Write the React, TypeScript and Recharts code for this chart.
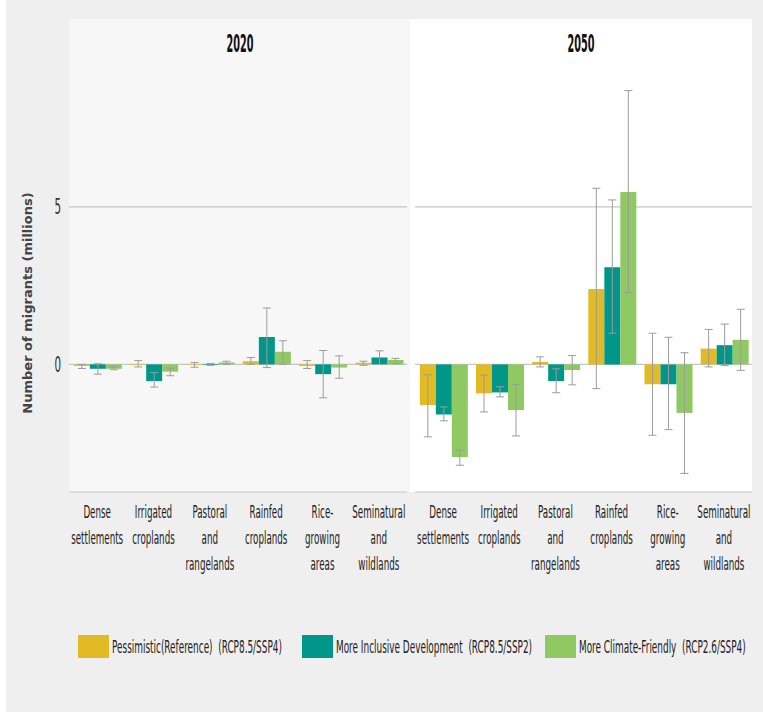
import { BarChart, Bar, XAxis, YAxis, CartesianGrid, ErrorBar } from "recharts"

// land-use categories (line breaks as in the original axis)
const CATEGORIES = [
  "Dense\nsettlements",
  "Irrigated\ncroplands",
  "Pastoral\nand\nrangelands",
  "Rainfed\ncroplands",
  "Rice-\ngrowing\nareas",
  "Seminatural\nand\nwildlands",
]

const SERIES = [
  { key: "pessimistic", name: "Pessimistic(Reference)\u00a0\u00a0(RCP8.5/SSP4)", color: "#e2bb24" },
  { key: "inclusive", name: "More Inclusive Development\u00a0\u00a0(RCP8.5/SSP2)", color: "#00968a" },
  { key: "climate", name: "More Climate-Friendly\u00a0\u00a0(RCP2.6/SSP4)", color: "#8ec961" },
]

// 2020, millions of migrants
const PESS_2020 = [-0.05, -0.02, -0.02, 0.1, -0.05, 0.05]
const PESS_2020_LO = [-0.13, -0.08, -0.09, 0.0, -0.13, -0.03]
const PESS_2020_HI = [0.0, 0.12, 0.06, 0.22, 0.12, 0.1]
const INCL_2020 = [-0.14, -0.53, -0.02, 0.87, -0.31, 0.22]
const INCL_2020_LO = [-0.31, -0.72, -0.03, -0.1, -1.06, 0.0]
const INCL_2020_HI = [0.02, -0.26, 0.03, 1.79, 0.44, 0.43]
const CLIM_2020 = [-0.14, -0.23, 0.06, 0.4, -0.1, 0.14]
const CLIM_2020_LO = [-0.17, -0.36, 0.0, 0.0, -0.44, 0.02]
const CLIM_2020_HI = [-0.07, -0.12, 0.1, 0.75, 0.27, 0.19]

// 2050
const PESS_2050 = [-1.29, -0.92, 0.08, 2.39, -0.63, 0.5]
const PESS_2050_LO = [-2.3, -1.51, -0.08, -0.77, -2.25, -0.08]
const PESS_2050_HI = [-0.33, -0.34, 0.24, 5.59, 0.99, 1.11]
const INCL_2050 = [-1.59, -0.89, -0.53, 3.08, -0.63, 0.61]
const INCL_2050_LO = [-1.79, -1.03, -0.9, 0.99, -2.07, -0.04]
const INCL_2050_HI = [-1.35, -0.71, -0.14, 5.22, 0.86, 1.28]
const CLIM_2050 = [-2.94, -1.45, -0.18, 5.47, -1.54, 0.78]
const CLIM_2050_LO = [-3.2, -2.27, -0.65, 2.28, -3.46, -0.19]
const CLIM_2050_HI = [-2.72, -0.64, 0.28, 8.69, 0.37, 1.75]

const Y_TICKS = [0, 5]
const Y_DOMAIN = [-4.05, 9.2]

const NARROW = "'Liberation Sans Narrow', 'DejaVu Sans Condensed', 'Liberation Sans', sans-serif"
const TEXT = "#222"

type Triple = [number[], number[], number[]]

function buildRows(series: Triple[]) {
  return CATEGORIES.map((name, i) => {
    const row: Record<string, any> = { name }
    SERIES.forEach((s, k) => {
      const [v, lo, hi] = series[k]
      row[s.key] = v[i]
      row[s.key + "Err"] = [v[i] - lo[i], hi[i] - v[i]]
    })
    return row
  })
}

const rows2020 = buildRows([
  [PESS_2020, PESS_2020_LO, PESS_2020_HI],
  [INCL_2020, INCL_2020_LO, INCL_2020_HI],
  [CLIM_2020, CLIM_2020_LO, CLIM_2020_HI],
])
const rows2050 = buildRows([
  [PESS_2050, PESS_2050_LO, PESS_2050_HI],
  [INCL_2050, INCL_2050_LO, INCL_2050_HI],
  [CLIM_2050, CLIM_2050_LO, CLIM_2050_HI],
])

function CategoryTick({ x, y, payload }: any) {
  const lines = String(payload.value).split("\n")
  return (
    <g transform={`translate(${x},${y})`}>
      <text transform="scale(0.54,1)" textAnchor="middle" fontFamily={NARROW} fontSize={18} fill={TEXT}>
        {lines.map((l, i) => (
          <tspan key={i} x={0} y={12 + i * 26} dominantBaseline="central">
            {l}
          </tspan>
        ))}
      </text>
    </g>
  )
}

function ValueTick({ x, y, payload }: any) {
  return (
    <g transform={`translate(${x},${y})`}>
      <text transform="scale(0.55,1)" textAnchor="end" dominantBaseline="central" fontFamily={NARROW} fontSize={21} fill="#333">
        {payload.value}
      </text>
    </g>
  )
}

// grid only at the 0 and 5 ticks
const gridAtTicks = ({ yAxis, offset }: any) => {
  if (yAxis && typeof yAxis.scale === "function") return Y_TICKS.map((t) => yAxis.scale(t))
  const [lo, hi] = Y_DOMAIN
  return Y_TICKS.map((t) => offset.top + (offset.height * (hi - t)) / (hi - lo))
}

function Panel({ data, left, width, yTicks }: { data: any[]; left: number; width: number; yTicks: boolean }) {
  return (
    <div style={{ position: "absolute", left, top: 19 }}>
      <BarChart
        width={width}
        height={590}
        data={data}
        margin={{ top: 55.5, right: yTicks ? 3 : 0, left: 0, bottom: 17 }}
        barCategoryGap="8.6%"
        barGap={0}
      >
        <CartesianGrid vertical={false} stroke="#c6c6c6" strokeWidth={1.2} horizontalCoordinatesGenerator={gridAtTicks} />
        <XAxis
          dataKey="name"
          interval={0}
          height={100}
          tickLine={false}
          axisLine={{ stroke: "#c6c6c6", strokeWidth: 1.2 }}
          tick={<CategoryTick />}
        />
        <YAxis
          width={yTicks ? 29 : 5}
          domain={Y_DOMAIN}
          ticks={Y_TICKS}
          allowDataOverflow
          axisLine={false}
          tickLine={false}
          tick={yTicks ? <ValueTick /> : false}
        />
        {SERIES.map((s) => (
          <Bar key={s.key} dataKey={s.key} name={s.name} fill={s.color} isAnimationActive={false}>
            <ErrorBar dataKey={s.key + "Err"} width={4} stroke="#9c9c9c" strokeWidth={1} direction="y" isAnimationActive={false} />
          </Bar>
        ))}
      </BarChart>
    </div>
  )
}

const LEGEND_X = [78, 302, 545]

export default function App() {
  return (
    <div style={{ position: "absolute", left: 0, top: 0, width: 763, height: 712, background: "#fff", overflow: "hidden" }}>
      <div style={{ position: "absolute", left: 6, top: 0, width: 757, height: 712, background: "#efefef" }} />
      <div style={{ position: "absolute", left: 69, top: 19, width: 341, height: 473, background: "#f7f7f7" }} />
      <div style={{ position: "absolute", left: 410, top: 19, width: 342, height: 473, background: "#ffffff" }} />

      <svg style={{ position: "absolute", left: 0, top: 0 }} width={763} height={80}>
        {[
          { label: "2020", cx: 240 },
          { label: "2050", cx: 581 },
        ].map((t) => (
          <g key={t.label} transform={`translate(${t.cx},44)`}>
            <text transform="scale(0.45,1)" textAnchor="middle" dominantBaseline="central" fontFamily={NARROW} fontWeight={700} fontSize={24} fill="#111">
              {t.label}
            </text>
          </g>
        ))}
      </svg>

      <div
        style={{
          position: "absolute",
          left: 27,
          top: 303,
          transform: "translate(-50%,-50%) rotate(-90deg)",
          whiteSpace: "nowrap",
          fontFamily: "'DejaVu Sans', sans-serif",
          fontWeight: 700,
          fontSize: 13,
          color: "#444",
        }}
      >
        Number of migrants (millions)
      </div>

      <Panel data={rows2020} left={40} width={370} yTicks />
      <Panel data={rows2050} left={410} width={342} yTicks={false} />

      <svg style={{ position: "absolute", left: 0, top: 620 }} width={763} height={50}>
        {SERIES.map((s, i) => (
          <g key={s.key} transform={`translate(${LEGEND_X[i]},0)`}>
            <rect x={0} y={15} width={31} height={23} fill={s.color} />
            <g transform="translate(34,27)">
              <text transform="scale(0.55,1)" dominantBaseline="central" fontFamily={NARROW} fontSize={18} fill={TEXT}>
                {s.name}
              </text>
            </g>
          </g>
        ))}
      </svg>
    </div>
  )
}
